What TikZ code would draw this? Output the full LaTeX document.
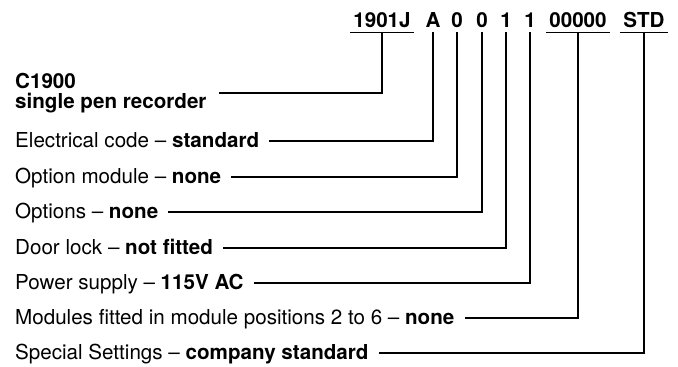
\documentclass[tikz,border=0pt]{standalone}
\usepackage{fontspec}
\setmainfont{TeX Gyre Heros}
\usetikzlibrary{calc}
\begin{document}
\begin{tikzpicture}[x=1pt,y=-1pt,
  every node/.style={font=\fontsize{20.6}{20.6}\selectfont},
  code/.style={anchor=base,inner xsep=3pt,inner ysep=5pt,text depth=0pt,font=\fontsize{20.6}{20.6}\selectfont\bfseries},
  lab/.style={anchor=base west,inner xsep=0pt,inner ysep=0pt,text height=17pt,text depth=3.4pt},
  wire/.style={line width=1.2pt,line cap=butt},
  uline/.style={line width=1.2pt}]
\useasboundingbox (0,0) rectangle (678,367);
% code characters
\node[code] (c1) at (382,27) {1901J};
\node[code] (c2) at (433,27) {A};
\node[code] (c3) at (457,27) {0};
\node[code] (c4) at (482,27) {0};
\node[code] (c5) at (506,27) {1};
\node[code] (c6) at (530,27) {1};
\node[code] (c7) at (578,27) {00000};
\node[code] (c8) at (644,27) {STD};
\draw[uline] (c1.south west) -- (c1.south east);
\draw[uline] (c7.south west) -- (c7.south east);
\draw[uline] (c8.south west) -- (c8.south east);
% labels
\node[anchor=base west,inner sep=0pt,align=left,font=\fontsize{20.6}{19.5}\selectfont\bfseries] (l1) at (15,108) {C1900\\single pen recorder};
\node[lab] (l2) at (15,147.8) {Electrical code -- \textbf{standard}};
\node[lab] (l3) at (15,183.8) {Option module -- \textbf{none}};
\node[lab] (l4) at (15,218.8) {Options -- \textbf{none}};
\node[lab] (l5) at (15,254.8) {Door lock -- \textbf{not fitted}};
\node[lab] (l6) at (15,289.8) {Power supply -- \textbf{115V AC}};
\node[lab] (l7) at (15,324.8) {Modules fitted in module positions 2 to 6 -- \textbf{none}};
\node[lab] (l8) at (15,359.8) {Special Settings -- \textbf{company standard}};
\coordinate (y1) at (0,93);
% connectors
\draw[wire] (c1.south) |- ([xshift=12pt]l1.east |- y1);
\draw[wire] (c2.south) |- ([xshift=10pt]l2.east);
\draw[wire] (c3.south) |- ([xshift=10pt]l3.east);
\draw[wire] (c4.south) |- ([xshift=10pt]l4.east);
\draw[wire] (c5.south) |- ([xshift=10pt]l5.east);
\draw[wire] (c6.south) |- ([xshift=10pt]l6.east);
\draw[wire] (c7.south) |- ([xshift=10pt]l7.east);
\draw[wire] (c8.south) |- ([xshift=10pt]l8.east);
\end{tikzpicture}
\end{document}
